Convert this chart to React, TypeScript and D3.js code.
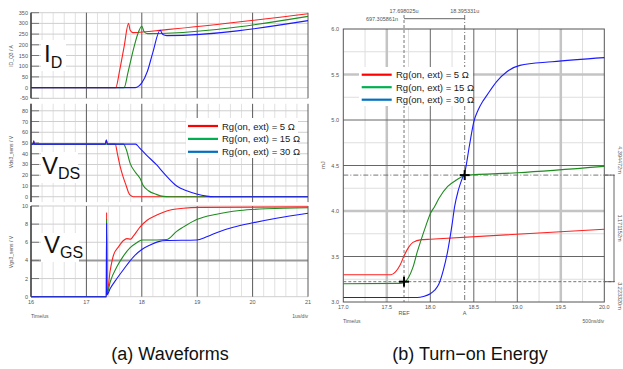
import React from 'react';
import * as d3 from 'd3';

type Pt = [number, number];

// ---------- (a) Waveforms data (time in us) ----------
const idRed: Pt[] = [[16, 0], [17.53, 0], [17.6, 80], [17.68, 190], [17.76, 300], [17.79, 268], [17.84, 257], [18.45, 271], [21, 345]];
const idGreen: Pt[] = [[16, 0], [17.68, 0], [17.75, 70], [17.85, 180], [17.94, 260], [18.0, 287], [18.04, 262], [18.1, 252], [18.45, 254], [21, 333]];
const idBlue: Pt[] = [[16, 0], [17.88, 0], [17.95, 8], [18.0, 22], [18.1, 75], [18.2, 165], [18.33, 268], [18.38, 248], [18.45, 243], [21, 313]];

const vdsRed: Pt[] = [[16, 49], [16.04, 49], [16.05, 51.5], [16.06, 49], [17.34, 49], [17.36, 52], [17.38, 49], [17.52, 49], [17.56, 40], [17.61, 28], [17.66, 19], [17.72, 10], [17.76, 4], [17.79, 1.5], [17.85, 0], [21, 0]];
const vdsGreen: Pt[] = [[16, 49], [17.67, 49], [17.72, 44], [17.79, 31], [17.88, 23], [17.97, 17], [18.02, 11], [18.12, 5.6], [18.26, 2.2], [18.39, 0.3], [18.5, 0], [21, 0]];
const vdsBlue: Pt[] = [[16, 49], [16.04, 49], [16.05, 52], [16.06, 49], [17.34, 49], [17.36, 53], [17.38, 49], [17.89, 49], [17.95, 46], [18.08, 39], [18.26, 30], [18.33, 26], [18.45, 19], [18.63, 10], [18.81, 5.6], [18.99, 2.5], [19.17, 0.6], [19.3, 0], [21, 0]];

const vgsRed: Pt[] = [[16, 0], [17.36, 0], [17.365, 9.3], [17.37, 0.3], [17.43, 2.9], [17.49, 4.6], [17.58, 5.5], [17.67, 6.2], [17.73, 6.4], [17.8, 6.35], [17.85, 6.7], [17.97, 7.7], [18.09, 8.4], [18.27, 9.0], [18.45, 9.45], [18.75, 9.75], [19.05, 9.85], [21, 9.9]];
const vgsGreen: Pt[] = [[16, 0], [17.36, 0], [17.365, 8.6], [17.37, 0.3], [17.43, 1.65], [17.55, 3.3], [17.67, 4.5], [17.79, 5.4], [17.91, 5.95], [18.0, 6.25], [18.27, 6.25], [18.45, 6.3], [18.63, 7.2], [18.81, 7.9], [18.99, 8.5], [19.35, 9.1], [19.77, 9.5], [20.25, 9.7], [21, 9.8]];
const vgsBlue: Pt[] = [[16, 0], [17.36, 0], [17.365, 8.1], [17.37, 0.2], [17.43, 0.9], [17.55, 2.0], [17.67, 3.0], [17.85, 4.4], [18.0, 5.2], [18.15, 5.7], [18.3, 6.07], [18.45, 6.2], [18.99, 6.25], [19.17, 6.6], [19.41, 7.2], [19.65, 7.65], [20.01, 8.15], [20.43, 8.65], [21, 9.2]];

// ---------- (b) Turn-on energy data (time in us, energy in mJ) ----------
const eRed: Pt[] = [[17.0, 3.3], [17.55, 3.3], [17.6, 3.33], [17.65, 3.4], [17.7, 3.51], [17.75, 3.6], [17.8, 3.655], [17.9, 3.685], [18.0, 3.69], [20.0, 3.8]];
const eGreen: Pt[] = [[17.0, 3.2], [17.65, 3.205], [17.7, 3.215], [17.75, 3.27], [17.8, 3.38], [17.85, 3.55], [17.9, 3.7], [17.95, 3.84], [18.0, 3.97], [18.05, 4.05], [18.1, 4.14], [18.2, 4.27], [18.3, 4.34], [18.4, 4.39], [19.0, 4.42], [20.0, 4.49]];
const eBlue: Pt[] = [[17.0, 3.05], [17.85, 3.05], [17.92, 3.06], [18.0, 3.09], [18.05, 3.13], [18.1, 3.2], [18.15, 3.35], [18.2, 3.56], [18.25, 3.85], [18.28, 4.05], [18.32, 4.22], [18.36, 4.34], [18.4, 4.44], [18.45, 4.72], [18.5, 4.98], [18.55, 5.11], [18.6, 5.2], [18.65, 5.27], [18.76, 5.42], [18.88, 5.53], [19.03, 5.6], [19.4, 5.64], [20.0, 5.685]];

const legendLabels = ['Rg(on, ext) = 5 Ω', 'Rg(on, ext) = 15 Ω', 'Rg(on, ext) = 30 Ω'];
const legendColors = ['#ff0000', '#00b050', '#0070c0'];
const curveColors = ['#ff2020', '#1e8c1e', '#1a1aff'];

const leftXTicks = [16, 17, 18, 19, 20, 21];
const idTicks = [-50, 0, 50, 100, 150, 200, 250, 300, 350];
const vdsTicks = [0, 10, 20, 30, 40, 50, 60, 70, 80];
const vgsTicks = [0, 2, 4, 6, 8, 10];
const rightXTicks = [17.0, 17.5, 18.0, 18.5, 19.0, 19.5, 20.0];
const rightYTicks = [3.0, 3.5, 4.0, 4.5, 5.0, 5.5, 6.0];

const cursorRef = 17.698025;
const cursorA = 18.395331;
const energyRef = 3.22332;
const energyA = 4.394472;
const cursorTexts = ['17.698025u', '18.395331u', '697.305861n'];
const deltaTexts = ['4.394472m', '1.171152m', '3.223320m'];
const captions = ['(a) Waveforms', '(b) Turn\u2212on Energy'];

const small = { fontFamily: 'Liberation Sans, Arial, sans-serif', fontSize: 5.5, fill: '#555' } as const;

export default function App() {
  // ----- left scales -----
  const xL = d3.scaleLinear().domain([16, 21]).range([31, 308]);
  const yI = d3.scaleLinear().domain([-50, 350]).range([98.3, 12.7]);
  const yV = d3.scaleLinear().domain([-5, 86.5]).range([202.1, 103.8]);
  const yG = d3.scaleLinear().domain([0, 10]).range([296.7, 206]);
  // ----- right scales -----
  const xR = d3.scaleLinear().domain([17, 20]).range([343.3, 604.3]);
  const yE = d3.scaleLinear().domain([3, 6]).range([302, 29]);

  const mk = (x: d3.ScaleLinear<number, number>, y: d3.ScaleLinear<number, number>) =>
    d3.line<Pt>().x((d) => x(d[0])).y((d) => y(d[1])).curve(d3.curveMonotoneX);

  const lI = mk(xL, yI), lV = mk(xL, yV), lG = mk(xL, yG), lE = mk(xR, yE);

  const minorL = d3.range(16.2, 21, 0.2).filter((v) => Math.abs(v - Math.round(v)) > 0.05);

  const leftPanel = (y: d3.ScaleLinear<number, number>, ticks: number[], darkTick?: number) => {
    const [y0, y1] = y.range();
    return (
      <g>
        <rect x={31} y={y1} width={277} height={y0 - y1} fill="#fff" />
        {minorL.map((v) => (
          <line key={'m' + v} x1={xL(v)} x2={xL(v)} y1={y1} y2={y0} stroke="#d9d9d9" strokeWidth={0.8} />
        ))}
        {ticks.map((t) => (
          <line key={'h' + t} x1={31} x2={308} y1={y(t)} y2={y(t)} stroke={t === darkTick ? '#999' : '#cfcfcf'} strokeWidth={t === darkTick ? 2 : 1} />
        ))}
        {leftXTicks.map((v) => (
          <line key={'v' + v} x1={xL(v)} x2={xL(v)} y1={y1} y2={y0} stroke="#5a5a5a" strokeWidth={1} />
        ))}
        {ticks.map((t) => (
          <g key={'t' + t}>
            <line x1={31} x2={39} y1={y(t)} y2={y(t)} stroke="#777" strokeWidth={1} />
            <text x={28} y={y(t) + 2} textAnchor="end" {...small}>{t}</text>
          </g>
        ))}
        <line x1={31} x2={31} y1={y1} y2={y0} stroke="#333" strokeWidth={1.2} />
      </g>
    );
  };

  const rightMinorV = [17.25, 17.75, 18.25, 18.75, 19.25, 19.75];
  const rightMinorH = [3.25, 3.75, 4.25, 4.75, 5.25, 5.75];

  return (
    <svg width={623} height={369} style={{ position: 'absolute', left: 0, top: 0 }} xmlns="http://www.w3.org/2000/svg">
      <rect width={623} height={369} fill="#fff" />

      {/* ================= (a) Waveforms ================= */}
      {leftPanel(yI, idTicks)}
      {leftPanel(yV, vdsTicks)}
      {leftPanel(yG, vgsTicks, 4)}

      {/* big labels */}
      <rect x={41} y={40} width={25} height={31} fill="#fff" />
      <text x={44} y={62} fontFamily="Liberation Sans, Arial, sans-serif" fontSize={24} fill="#111">I<tspan fontSize={16} dy={6}>D</tspan></text>
      <rect x={41} y={152} width={37} height={31} fill="#fff" />
      <text x={42} y={174} fontFamily="Liberation Sans, Arial, sans-serif" fontSize={24} fill="#111">V<tspan fontSize={16} dy={5}>DS</tspan></text>
      <rect x={41} y={233} width={38} height={29} fill="#fff" />
      <text x={44} y={253} fontFamily="Liberation Sans, Arial, sans-serif" fontSize={24} fill="#111">V<tspan fontSize={16} dy={5}>GS</tspan></text>

      {/* curves */}
      {[idRed, idGreen, idBlue].map((s, i) => (
        <path key={'id' + i} d={lI(s) || ''} fill="none" stroke={curveColors[i]} strokeWidth={1.1} />
      ))}
      {[vdsRed, vdsGreen, vdsBlue].map((s, i) => (
        <path key={'vd' + i} d={lV(s) || ''} fill="none" stroke={curveColors[i]} strokeWidth={1.1} />
      ))}
      {[vgsRed, vgsGreen, vgsBlue].map((s, i) => (
        <path key={'vg' + i} d={lG(s) || ''} fill="none" stroke={curveColors[i]} strokeWidth={1.1} />
      ))}

      {/* left legend */}
      <rect x={186} y={118} width={112} height={40} fill="#fff" />
      {legendLabels.map((l, i) => (
        <g key={'ll' + i}>
          <line x1={188} x2={218} y1={126 + i * 12.9} y2={126 + i * 12.9} stroke={legendColors[i]} strokeWidth={2.2} />
          <text x={222} y={129.5 + i * 12.9} fontFamily="Liberation Sans, Arial, sans-serif" fontSize={9.5} fill="#222">{l}</text>
        </g>
      ))}

      {/* left x-axis labels */}
      {leftXTicks.map((v) => (
        <text key={'lx' + v} x={xL(v)} y={304} textAnchor="middle" {...small}>{v}</text>
      ))}
      <text x={31} y={318} {...small} fontSize={5}>Time/us</text>
      <text x={308} y={318} textAnchor="end" {...small} fontSize={5}>1us/div</text>
      <text transform="translate(13,56) rotate(-90)" textAnchor="middle" {...small} fontSize={5}>ID_Q3 / A</text>
      <text transform="translate(13,152) rotate(-90)" textAnchor="middle" {...small} fontSize={5}>Vds3_sens / V</text>
      <text transform="translate(13,252) rotate(-90)" textAnchor="middle" {...small} fontSize={5}>Vgs3_sens / V</text>

      {/* ================= (b) Turn-on Energy ================= */}
      {rightMinorV.map((v) => (
        <line key={'rmv' + v} x1={xR(v)} x2={xR(v)} y1={yE(6)} y2={yE(3)} stroke="#dedede" strokeWidth={1} />
      ))}
      {rightMinorH.map((v) => (
        <line key={'rmh' + v} x1={xR(17)} x2={xR(20)} y1={yE(v)} y2={yE(v)} stroke="#dedede" strokeWidth={1} />
      ))}
      {[17.5, 19.5].map((v) => (
        <line key={'rtv' + v} x1={xR(v)} x2={xR(v)} y1={yE(6)} y2={yE(3)} stroke="#c4c4c4" strokeWidth={2.5} />
      ))}
      {[5.5, 4.0].map((v) => (
        <line key={'rth' + v} x1={xR(17)} x2={xR(20)} y1={yE(v)} y2={yE(v)} stroke="#c4c4c4" strokeWidth={2.5} />
      ))}
      {[18.0, 18.5, 19.0].map((v) => (
        <line key={'rdv' + v} x1={xR(v)} x2={xR(v)} y1={yE(6)} y2={yE(3)} stroke="#666" strokeWidth={1} />
      ))}
      {[5.0, 4.5, 3.5].map((v) => (
        <line key={'rdh' + v} x1={xR(17)} x2={xR(20)} y1={yE(v)} y2={yE(v)} stroke="#666" strokeWidth={1} />
      ))}
      <rect x={xR(17)} y={yE(6)} width={xR(20) - xR(17)} height={yE(3) - yE(6)} fill="none" stroke="#555" strokeWidth={1} />

      {/* cursors */}
      <line x1={xR(cursorRef)} x2={xR(cursorRef)} y1={15} y2={yE(3)} stroke="#666" strokeWidth={0.9} strokeDasharray="3,2" />
      <line x1={xR(cursorA)} x2={xR(cursorA)} y1={15} y2={yE(3)} stroke="#666" strokeWidth={0.9} strokeDasharray="5,2,1,2" />
      <line x1={xR(17)} x2={615} y1={yE(energyRef)} y2={yE(energyRef)} stroke="#666" strokeWidth={0.9} strokeDasharray="3,2" />
      <line x1={xR(17)} x2={615} y1={yE(energyA)} y2={yE(energyA)} stroke="#666" strokeWidth={0.9} strokeDasharray="5,2,1,2" />
      <line x1={xR(cursorRef)} x2={xR(cursorA)} y1={18.7} y2={18.7} stroke="#555" strokeWidth={0.9} />
      <text x={xR(cursorRef)} y={12.5} textAnchor="middle" {...small}>{cursorTexts[0]}</text>
      <text x={xR(cursorA)} y={12.5} textAnchor="middle" {...small}>{cursorTexts[1]}</text>
      <text x={xR(cursorRef) - 6} y={20.5} textAnchor="end" {...small}>{cursorTexts[2]}</text>
      <text x={xR(cursorRef)} y={315} textAnchor="middle" {...small}>REF</text>
      <text x={xR(cursorA)} y={315} textAnchor="middle" {...small}>A</text>

      {/* right bracket */}
      <line x1={614} x2={614} y1={yE(energyA)} y2={yE(energyRef)} stroke="#555" strokeWidth={0.9} />
      <line x1={605} x2={614} y1={yE(energyA)} y2={yE(energyA)} stroke="#555" strokeWidth={0.9} />
      <line x1={605} x2={614} y1={yE(energyRef)} y2={yE(energyRef)} stroke="#555" strokeWidth={0.9} />
      <text transform="translate(618,160) rotate(90)" textAnchor="middle" {...small}>{deltaTexts[0]}</text>
      <text transform="translate(618,228) rotate(90)" textAnchor="middle" {...small}>{deltaTexts[1]}</text>
      <text transform="translate(618,296) rotate(90)" textAnchor="middle" {...small}>{deltaTexts[2]}</text>

      {/* energy curves */}
      {[eRed, eGreen, eBlue].map((s, i) => (
        <path key={'e' + i} d={lE(s) || ''} fill="none" stroke={curveColors[i]} strokeWidth={1.1} />
      ))}

      {/* cross markers */}
      {[[cursorRef, energyRef], [cursorA, energyA]].map(([cx, cy], i) => (
        <g key={'cm' + i} stroke="#000" strokeWidth={2}>
          <line x1={xR(cx) - 5} x2={xR(cx) + 5} y1={yE(cy)} y2={yE(cy)} />
          <line x1={xR(cx)} x2={xR(cx)} y1={yE(cy) - 5} y2={yE(cy) + 5} />
        </g>
      ))}

      {/* right legend */}
      <rect x={359} y={67} width={114} height={39} fill="#fff" />
      {legendLabels.map((l, i) => (
        <g key={'rl' + i}>
          <line x1={361.7} x2={391.7} y1={74.7 + i * 12.5} y2={74.7 + i * 12.5} stroke={legendColors[i]} strokeWidth={2.2} />
          <text x={396} y={78.3 + i * 12.5} fontFamily="Liberation Sans, Arial, sans-serif" fontSize={9.5} fill="#222">{l}</text>
        </g>
      ))}

      {/* right axes labels */}
      {rightXTicks.map((v) => (
        <text key={'rx' + v} x={xR(v)} y={308.5} textAnchor="middle" {...small}>{v.toFixed(1)}</text>
      ))}
      {rightYTicks.map((v) => (
        <text key={'ry' + v} x={339} y={yE(v) + 2} textAnchor="end" {...small}>{v.toFixed(1)}</text>
      ))}
      <text transform="translate(325,165) rotate(-90)" textAnchor="middle" {...small}>mJ</text>
      <text x={343} y={323} {...small} fontSize={5}>Time/us</text>
      <text x={604} y={323} textAnchor="end" {...small} fontSize={5}>500ns/div</text>

      {/* captions */}
      <text x={170} y={360} textAnchor="middle" fontFamily="Liberation Sans, Arial, sans-serif" fontSize={18} fill="#111">{captions[0]}</text>
      <text x={470} y={360} textAnchor="middle" fontFamily="Liberation Sans, Arial, sans-serif" fontSize={18} fill="#111">{captions[1]}</text>
    </svg>
  );
}
